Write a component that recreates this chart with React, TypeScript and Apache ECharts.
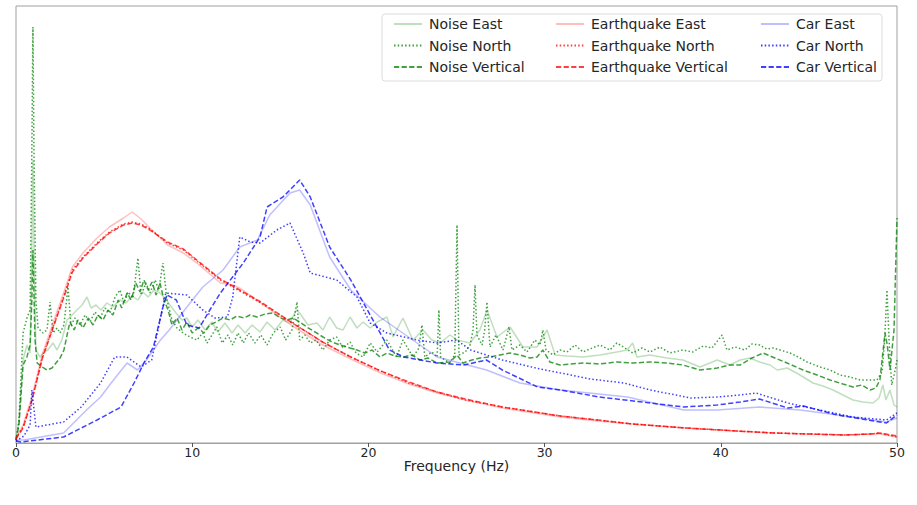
import React, { useEffect, useRef } from "react";
import * as echarts from "echarts";

// x: frequency (Hz), y: amplitude (arbitrary units)
const noiseEast: number[][] = [
  [0, 3], [0.17, 23], [0.4, 83], [0.62, 98], [0.8, 90], [0.9, 193], [0.96, 283], [1.02, 193], [1.13, 93], [1.36, 86],
  [1.53, 90], [1.8, 93], [2.1, 100], [2.33, 93], [2.6, 103], [2.9, 123], [3.18, 128], [3.46, 133], [3.75, 138], [4.03, 146],
  [4.26, 135], [4.54, 138], [4.82, 133], [5.16, 140], [5.5, 136], [5.9, 143], [6.24, 140], [6.58, 147], [6.92, 143], [7.2, 151],
  [7.5, 146], [7.83, 153], [8.17, 150], [8.45, 145], [8.74, 138], [9.08, 130], [9.42, 123], [9.7, 125], [10, 116], [10.33, 123],
  [10.73, 113], [11.12, 121], [11.46, 111], [11.86, 120], [12.26, 110], [12.6, 118], [13, 110], [13.4, 118], [13.85, 111], [14.25, 121],
  [14.7, 113], [15.15, 123], [15.55, 120], [15.9, 133], [16.1, 130], [16.57, 118], [17.08, 120], [17.42, 113], [17.8, 126], [18.2, 115],
  [18.56, 113], [18.96, 126], [19.35, 115], [19.7, 121], [20.1, 115], [20.5, 121], [21.05, 126], [21.4, 106], [21.96, 125], [22.53, 103],
  [23.1, 113], [23.6, 103], [24.06, 100], [24.63, 108], [25.03, 103], [25.77, 100], [26.33, 113], [26.73, 133], [27.3, 106], [28.04, 116],
  [28.77, 96], [29.57, 96], [30.14, 113], [30.6, 88], [31.27, 87], [32.18, 86], [33.14, 88], [34.1, 91], [34.68, 93], [35, 100],
  [35.24, 86], [35.98, 88], [36.95, 85], [37.85, 83], [38.82, 76], [39.8, 83], [40.5, 78], [41.1, 83], [41.66, 85], [42.2, 81],
  [42.8, 78], [43.2, 73], [43.76, 75], [44.3, 70], [44.78, 65], [45.23, 60], [45.8, 57], [46.37, 53], [46.93, 48], [47.5, 43],
  [48.07, 41], [48.64, 40], [48.98, 45], [49.2, 58], [49.37, 43], [49.6, 53], [49.83, 38], [50, 36],
];

const noiseNorth: number[][] = [
  [0, 3], [0.17, 23], [0.4, 110], [0.62, 125], [0.8, 133], [0.9, 293], [0.96, 416], [1.02, 293], [1.13, 143], [1.25, 115],
  [1.53, 110], [1.76, 113], [1.93, 141], [2.1, 110], [2.33, 115], [2.5, 110], [2.72, 118], [2.95, 156], [3.12, 118], [3.35, 125],
  [3.63, 118], [3.92, 128], [4.2, 121], [4.48, 131], [4.77, 125], [5.05, 135], [5.33, 130], [5.62, 146], [5.9, 153], [6.13, 140],
  [6.36, 151], [6.64, 145], [6.92, 185], [7.1, 148], [7.38, 160], [7.6, 150], [7.9, 163], [8.1, 153], [8.34, 180], [8.57, 143],
  [8.85, 123], [9.14, 115], [9.48, 110], [9.88, 106], [10.27, 103], [10.6, 110], [10.84, 100], [11.12, 108], [11.4, 116], [11.7, 100],
  [12.03, 108], [12.3, 98], [12.6, 110], [12.9, 100], [13.2, 110], [13.56, 100], [13.9, 108], [14.25, 98], [14.6, 110], [15, 116],
  [15.3, 103], [15.66, 113], [15.95, 141], [16.1, 103], [16.4, 108], [16.7, 100], [17.03, 103], [17.42, 93], [17.8, 103], [18.2, 106],
  [18.56, 95], [18.96, 101], [19.3, 90], [19.7, 86], [20.1, 100], [20.5, 91], [21.05, 103], [21.6, 86], [21.96, 103], [22.53, 86],
  [22.87, 95], [23.04, 118], [23.2, 86], [23.6, 91], [23.9, 86], [24, 133], [24.1, 86], [24.6, 80], [24.9, 88], [25.03, 218],
  [25.14, 88], [25.5, 91], [25.77, 98], [25.94, 113], [26.05, 158], [26.16, 108], [26.45, 98], [26.6, 113], [26.73, 141], [26.9, 96],
  [27.24, 108], [27.64, 93], [27.98, 116], [28.15, 93], [28.6, 98], [29, 91], [29.45, 103], [29.74, 98], [29.9, 113], [30.08, 93],
  [30.48, 88], [30.87, 93], [31.27, 91], [31.73, 98], [32.18, 91], [32.7, 95], [33.14, 98], [33.7, 93], [34.1, 100], [34.56, 95],
  [35, 90], [35.53, 95], [35.98, 91], [36.55, 96], [37.1, 90], [37.85, 93], [38.4, 91], [39, 97], [39.5, 95], [40.07, 108],
  [40.35, 93], [40.8, 96], [41.37, 93], [41.77, 99], [42.2, 98], [42.6, 94], [42.96, 95], [43.36, 93], [43.93, 90], [44.5, 85],
  [44.9, 81], [45.63, 76], [46.2, 73], [46.77, 68], [47.33, 66], [47.9, 63], [48.47, 63], [48.86, 63], [49.15, 71], [49.3, 103],
  [49.43, 153], [49.55, 103], [49.7, 58], [49.9, 73], [50, 83],
];

const noiseVertical: number[][] = [
  [0, 3], [0.17, 18], [0.4, 78], [0.62, 86], [0.8, 98], [0.9, 143], [0.96, 193], [1.08, 103], [1.2, 80], [1.48, 76],
  [1.76, 73], [2.04, 75], [2.27, 80], [2.5, 85], [2.72, 93], [2.9, 108], [3.06, 121], [3.3, 113], [3.52, 123], [3.8, 115],
  [4.1, 125], [4.37, 118], [4.65, 128], [4.94, 123], [5.22, 133], [5.5, 128], [5.8, 143], [6.0, 135], [6.3, 150], [6.53, 143],
  [6.8, 160], [7.04, 151], [7.26, 163], [7.5, 153], [7.72, 161], [7.95, 148], [8.17, 160], [8.4, 143], [8.63, 133], [8.85, 118],
  [9.14, 125], [9.42, 113], [9.7, 121], [10, 110], [10.33, 115], [10.67, 110], [11, 118], [11.35, 121], [11.75, 125], [12.15, 123],
  [12.54, 127], [12.94, 125], [13.28, 128], [13.68, 126], [14.13, 129], [14.6, 130], [15, 125], [15.4, 123], [15.72, 125], [16.1, 121],
  [16.5, 116], [16.97, 111], [17.42, 106], [17.93, 101], [18.4, 98], [18.96, 95], [19.35, 93], [19.8, 90], [20.2, 93], [20.66, 86],
  [21.05, 90], [21.5, 87], [21.96, 86], [22.47, 88], [22.93, 83], [23.38, 85], [23.9, 80], [24.63, 81], [25.03, 88], [25.37, 80],
  [25.88, 83], [26.33, 85], [26.9, 86], [27.47, 88], [28.04, 90], [28.6, 88], [29.17, 85], [29.57, 86], [29.9, 93], [30.3, 81],
  [30.87, 78], [32.18, 80], [33.14, 79], [34.1, 81], [35, 80], [35.98, 81], [36.95, 80], [37.85, 78], [38.82, 73], [39.8, 75],
  [40.5, 78], [41.1, 78], [41.77, 85], [42.4, 90], [43.07, 85], [43.76, 80], [44.67, 73], [45.46, 68], [46.2, 63], [46.93, 59],
  [47.5, 56], [48, 58], [48.47, 53], [48.8, 55], [49.03, 63], [49.32, 110], [49.45, 98], [49.6, 73], [49.83, 113], [50, 225],
];

const quakeEast: number[][] = [
  [0, 5], [0.4, 18], [0.9, 46], [1.5, 89], [2.1, 120], [2.7, 150], [3.2, 176], [3.8, 190], [4.6, 205], [5.3, 216],
  [6.1, 225], [6.6, 231], [7.1, 224], [7.6, 215], [8.6, 198], [9.5, 190], [10.4, 178], [11.6, 160], [12.3, 158], [12.7, 155],
  [13.9, 140], [15.6, 118], [17.4, 98], [19, 84], [20.7, 70], [22.3, 59], [23.9, 50], [25.5, 43], [27.6, 35], [30.9, 26],
  [33, 22], [35, 19], [38, 15], [40.9, 12], [43, 10], [45, 9], [47, 8], [48.5, 9], [49, 9], [50, 6],
];

const quakeNorth: number[][] = [
  [0, 5], [0.4, 16], [0.9, 43], [1.5, 86], [2.1, 116], [2.7, 146], [3.2, 173], [3.8, 186], [4.6, 200], [5.3, 211],
  [6.1, 219], [6.6, 221], [7.1, 219], [7.6, 214], [8.6, 200], [9.5, 193], [10.4, 180], [11.6, 163], [12.7, 152], [13.9, 140],
  [15.6, 121], [17.4, 101], [19, 86], [20.7, 72], [22.3, 60], [23.9, 51], [25.5, 43], [27.6, 36], [30.9, 27], [33, 23],
  [35, 19], [38, 15], [40.9, 12], [43, 10], [45, 9], [47, 8], [48.5, 9], [49, 10], [50, 6],
];

const quakeVertical: number[][] = [
  [0, 4], [0.4, 15], [0.9, 42], [1.5, 85], [2.1, 115], [2.7, 145], [3.2, 171], [3.8, 185], [4.6, 199], [5.3, 210],
  [6.1, 218], [6.6, 220], [7.1, 218], [7.6, 213], [8.6, 201], [9.5, 194], [10.4, 181], [11.6, 164], [12.7, 153], [13.9, 141],
  [15.6, 121], [17.4, 101], [19, 86], [20.7, 72], [22.3, 61], [23.9, 51], [25.5, 44], [27.6, 36], [30.9, 27], [33, 23],
  [35, 19], [38, 15], [40.9, 12], [43, 10], [45, 9], [47, 8], [48.5, 9], [49, 10], [50, 7],
];

const carEast: number[][] = [
  [0, 3], [0.45, 3], [2.7, 10], [4, 33], [4.8, 46], [5.4, 60], [6.3, 80], [6.9, 73], [7.4, 83], [8.2, 103],
  [8.7, 113], [9.7, 136], [10.6, 156], [11.75, 173], [12.7, 196], [13.7, 203], [14.4, 228], [15.55, 250], [16.1, 253], [16.7, 238],
  [17.8, 186], [19, 153], [20.65, 126], [23.9, 86], [26.7, 73], [28.6, 60], [30.9, 53], [34.7, 46], [37.9, 33], [39.8, 33],
  [42.2, 36], [44.5, 33], [47.5, 26], [49.4, 21], [50, 25],
];

const carNorth: number[][] = [
  [0, 2], [0.45, 7], [0.8, 18], [0.9, 53], [1.13, 16], [2.7, 21], [3.7, 36], [4.8, 60], [5.6, 86], [6.3, 86],
  [7.1, 76], [7.7, 83], [8.5, 150], [9.7, 148], [10.6, 133], [11.3, 125], [12, 126], [12.3, 146], [12.7, 206], [13.3, 201],
  [13.85, 200], [14.8, 213], [15.55, 220], [16.3, 190], [16.7, 170], [18.2, 163], [19.35, 146], [20.1, 120], [21.05, 110], [22.75, 103],
  [23.9, 100], [25, 103], [25.8, 93], [27.6, 83], [29.5, 75], [30.9, 70], [32.6, 64], [34.5, 60], [36, 53], [38.3, 45],
  [39.8, 46], [41.1, 48], [42, 50], [43.8, 40], [45.6, 33], [47.5, 26], [49.4, 23], [50, 30],
];

const carVertical: number[][] = [
  [0, 2], [0.28, 1], [2.7, 6], [4.6, 23], [5.96, 36], [6.7, 60], [7.26, 80], [7.8, 96], [8.34, 136], [8.57, 148],
  [9.1, 143], [9.7, 118], [10.4, 115], [11, 133], [11.6, 150], [12.9, 180], [13.85, 206], [14.25, 236], [15.15, 246], [16.1, 263],
  [16.7, 246], [17.8, 196], [19, 163], [20.1, 128], [21.2, 93], [22, 86], [23.9, 80], [25.4, 78], [26.7, 83], [27.6, 73],
  [29.6, 56], [30.9, 53], [33.1, 46], [36, 40], [37.9, 36], [39.8, 38], [41.1, 41], [42.2, 44], [43.8, 35], [44.7, 37],
  [46.6, 28], [49.4, 20], [50, 28],
];

const seriesNames = [
  "Noise East", "Noise North", "Noise Vertical",
  "Earthquake East", "Earthquake North", "Earthquake Vertical",
  "Car East", "Car North", "Car Vertical",
];
const seriesData = [noiseEast, noiseNorth, noiseVertical, quakeEast, quakeNorth, quakeVertical, carEast, carNorth, carVertical];
const groupColors = ["#008000", "#ff0000", "#0000ff"];
const xTicks = [0, 10, 20, 30, 40, 50];

export default function App() {
  const ref = useRef<HTMLDivElement>(null);
  useEffect(() => {
    document.body.style.margin = "0";
    const chart = echarts.init(ref.current!, undefined, { renderer: "svg" });
    const dotted = [1.5, 2.2];
    const dashed = [5.2, 2.4];
    const series = seriesNames.map((name, i) => {
      const comp = i % 3;
      const color = groupColors[Math.floor(i / 3)];
      return {
        name,
        type: "line",
        data: seriesData[i],
        symbol: "none",
        showSymbol: false,
        silent: true,
        lineStyle: {
          color,
          width: 1.5,
          opacity: comp === 0 ? 0.25 : 0.75,
          type: comp === 0 ? "solid" : comp === 1 ? dotted : dashed,
        },
        itemStyle: { color, opacity: comp === 0 ? 0.25 : 0.75 },
      };
    });
    const legendCol = (names: string[], left: number) => ({
      data: names,
      orient: "vertical",
      left,
      top: 12,
      itemWidth: 28,
      itemHeight: 10,
      itemGap: 7.5,
      selectedMode: false,
      itemStyle: { opacity: 0, borderWidth: 0 },
      textStyle: { fontFamily: "DejaVu Sans", fontSize: 14, color: "#262626", lineHeight: 14, padding: [0, 0, 0, 2] },
    });
    chart.setOption({
      animation: false,
      textStyle: { fontFamily: "DejaVu Sans" },
      grid: { left: 16, right: 20, top: 6, bottom: 62, show: true, borderColor: "#a0a0a0", borderWidth: 1 },
      graphic: [
        {
          type: "rect",
          z: 3,
          silent: true,
          shape: { x: 382, y: 14, width: 500, height: 67, r: 3 },
          style: { fill: "rgba(255,255,255,0.85)", stroke: "#dcdcdc", lineWidth: 1 },
        },
      ],
      legend: [
        legendCol(seriesNames.slice(0, 3), 388),
        legendCol(seriesNames.slice(3, 6), 550),
        legendCol(seriesNames.slice(6, 9), 755),
      ],
      xAxis: {
        type: "value",
        min: xTicks[0],
        max: xTicks[xTicks.length - 1],
        interval: 10,
        name: "Frequency (Hz)",
        nameLocation: "middle",
        nameGap: 16,
        nameMoveOverlap: false,
        nameTextStyle: { fontSize: 14, color: "#262626", fontFamily: "DejaVu Sans", verticalAlign: "top", padding: [0, 0, 0, 0] },
        axisLine: { lineStyle: { color: "#a0a0a0", width: 1 } },
        axisTick: { show: true, length: 4, lineStyle: { color: "#555" } },
        axisLabel: { fontSize: 12.5, color: "#262626", margin: 3, fontFamily: "DejaVu Sans" },
        splitLine: { show: false },
      },
      yAxis: {
        type: "value",
        min: 0,
        max: 437,
        show: false,
        splitLine: { show: false },
      },
      series,
    });
    return () => chart.dispose();
  }, []);
  return <div ref={ref} style={{ width: 917, height: 505 }} />;
}
